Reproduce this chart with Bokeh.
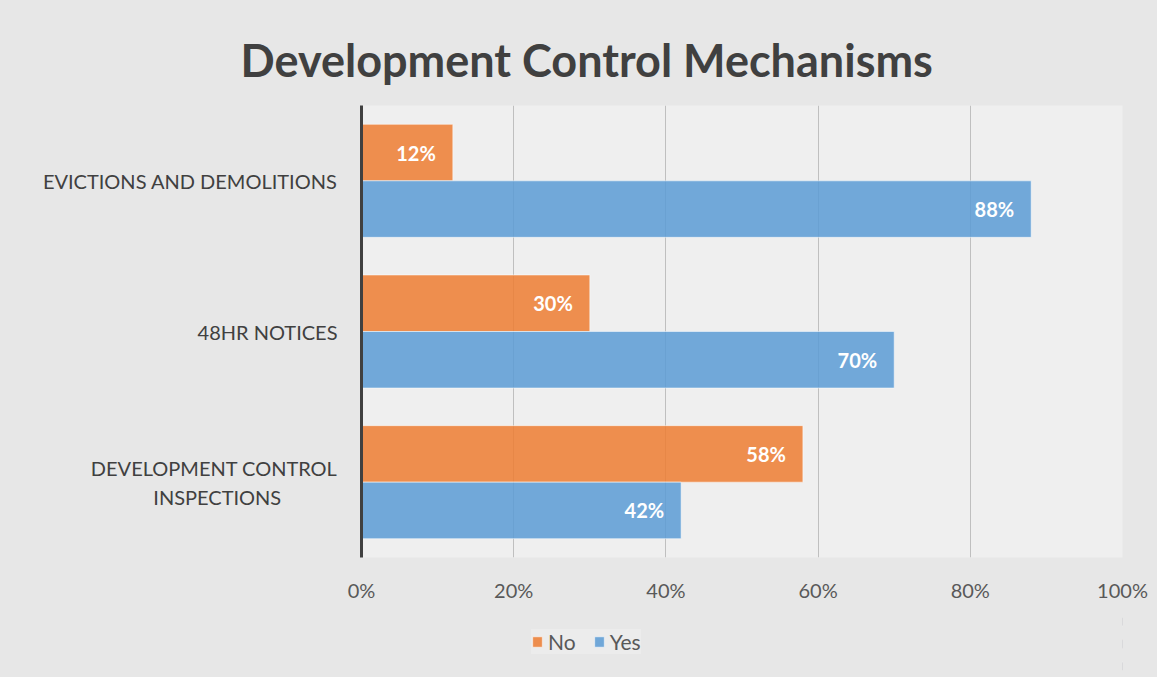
from bokeh.plotting import figure
from bokeh.layouts import column
from bokeh.models import FactorRange, Range1d, Legend, LegendItem, PrintfTickFormatter, ColumnDataSource, FixedTicker
from bokeh.transform import dodge
from bokeh.core.properties import value
from bokeh.embed import file_html
from bokeh.resources import INLINE

NB = "\u00a0"
categories = ["DEVELOPMENT CONTROL\nINSPECTIONS" + NB * 11, "48HR NOTICES", "EVICTIONS AND DEMOLITIONS"]
no_values = [58, 30, 12]
yes_values = [42, 70, 88]
x_ticks = [0, 20, 40, 60, 80, 100]
series_names = ["No", "Yes"]
colors = ["#ED7D31", "#5B9BD5"]

FONT = "Lato"
BORDER_BG = "#e7e7e7"

src = ColumnDataSource(dict(
    cat=categories,
    no=no_values,
    yes=yes_values,
    no_lbl=[f"{v}%" for v in no_values],
    yes_lbl=[f"{v}%" for v in yes_values],
))

p = figure(width=1157, height=610, y_range=FactorRange(factors=categories),
           x_range=Range1d(0, 100), output_backend="svg", toolbar_location=None,
           min_border_left=361, min_border_right=35, min_border_top=105, min_border_bottom=53)

p.background_fill_color = "#efefef"
p.border_fill_color = BORDER_BG
p.outline_line_color = None

bar_style = dict(fill_alpha=0.85, line_color="white", line_alpha=0.5)
r_no = p.hbar(y=dodge("cat", 0.1875, range=p.y_range), right="no", left=0, height=0.375,
              source=src, fill_color=colors[0], **bar_style)
r_yes = p.hbar(y=dodge("cat", -0.1875, range=p.y_range), right="yes", left=0, height=0.375,
               source=src, fill_color=colors[1], **bar_style)

p.text(x="no", y=dodge("cat", 0.1875, range=p.y_range), text="no_lbl", source=src,
       x_offset=-17, text_align="right", text_baseline="middle", text_color="white",
       text_font=value(FONT), text_font_style="bold", text_font_size="20px")
p.text(x="yes", y=dodge("cat", -0.1875, range=p.y_range), text="yes_lbl", source=src,
       x_offset=-17, text_align="right", text_baseline="middle", text_color="white",
       text_font=value(FONT), text_font_style="bold", text_font_size="20px")

p.title.text = "Development Control Mechanisms"
p.title.text_font = FONT
p.title.text_font_size = "45px"
p.title.text_font_style = "bold"
p.title.text_color = "#404040"
p.title.align = "left"
p.title.offset = -121
p.title.standoff = 37

p.xgrid.grid_line_color = "#bfbfbf"
p.xgrid.ticker = FixedTicker(ticks=x_ticks)
p.ygrid.grid_line_color = None

p.xaxis.ticker = FixedTicker(ticks=x_ticks)
p.xaxis.formatter = PrintfTickFormatter(format="%d%%")
p.xaxis.axis_line_color = None
p.xaxis.major_tick_line_color = None
p.xaxis.minor_tick_line_color = None
p.xaxis.major_label_text_font = FONT
p.xaxis.major_label_text_font_size = "20px"
p.xaxis.major_label_text_color = "#595959"
p.xaxis.major_label_standoff = 14

p.yaxis.axis_line_color = "#404040"
p.yaxis.axis_line_width = 3
p.yaxis.major_tick_line_color = None
p.yaxis.minor_tick_line_color = None
p.yaxis.major_label_text_font = FONT
p.yaxis.major_label_text_font_size = "20px"
p.yaxis.major_label_text_color = "#404040"
p.yaxis.major_label_standoff = 18

# legend strip below the chart (bars here fall outside its x-range, only the swatches show)
p2 = figure(width=1157, height=67, x_range=Range1d(-2, -1), y_range=FactorRange(factors=categories),
            output_backend="svg", toolbar_location=None,
            x_axis_location=None, y_axis_location=None,
            min_border=0, min_border_left=0, min_border_right=0, min_border_top=0, min_border_bottom=0)
p2.background_fill_color = BORDER_BG
p2.border_fill_color = BORDER_BG
p2.outline_line_color = None
p2.xgrid.visible = False
p2.ygrid.visible = False
lg_no = p2.hbar(y="cat", right="no", left=0, height=0.375, source=src, fill_color=colors[0], **bar_style)
lg_yes = p2.hbar(y="cat", right="yes", left=0, height=0.375, source=src, fill_color=colors[1], **bar_style)

legend = Legend(items=[LegendItem(label=series_names[0], renderers=[lg_no], index=0),
                       LegendItem(label=series_names[1], renderers=[lg_yes], index=0)],
                orientation="horizontal", location=(170, 23),
                background_fill_color="#eeeeee", background_fill_alpha=0.7,
                border_line_color=None, label_text_font=FONT, label_text_font_size="21px",
                label_text_color="#595959", glyph_width=12, glyph_height=13,
                spacing=17, label_standoff=5, padding=8, margin=0)
p2.add_layout(legend, "center")

layout = column(p, p2, spacing=0, styles={"background-color": BORDER_BG})
open("out.html", "w").write(file_html(layout, INLINE))
